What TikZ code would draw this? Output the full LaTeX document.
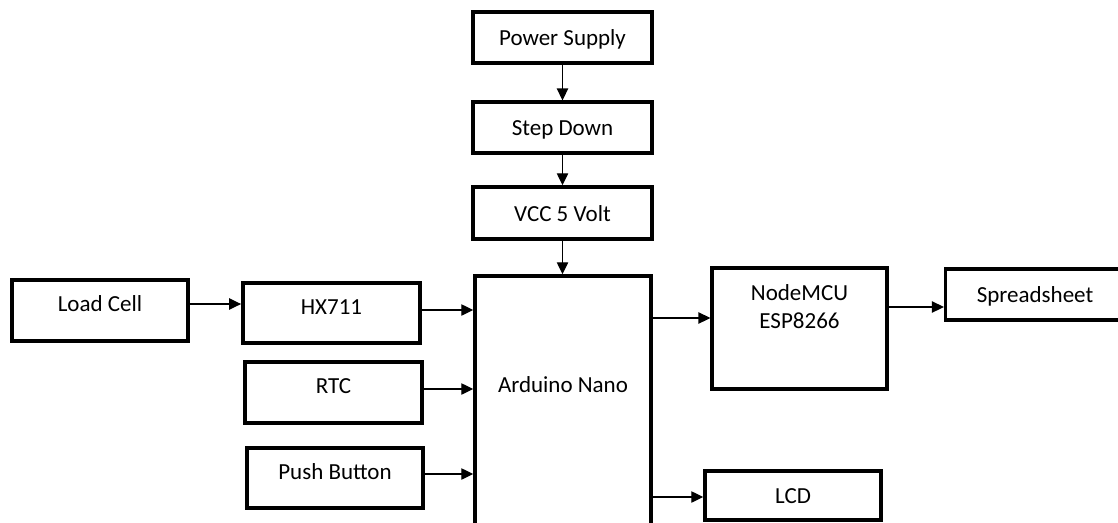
\documentclass[tikz,border=0pt]{standalone}
\usepackage{fontspec}
\setmainfont{Carlito}
\usepackage{tikz}
\usetikzlibrary{positioning, arrows.meta}

\tikzset{
  block/.style={draw, line width=2.6pt, inner sep=0pt, font=\fontsize{17.25}{21}\selectfont, text height=12pt, text depth=0pt},
  raised/.style={text depth=10pt},
  arr/.style={-{Triangle[length=9pt, width=8.5pt]}, line width=1pt}
}

\begin{document}
\begin{tikzpicture}[x=0.75pt, y=-0.75pt]
\clip (0,0) rectangle (1118,522);
% power chain
\node[block, minimum width=134pt, minimum height=38pt] (pwr) at (562.5, 37.5) {Power Supply};
\node[block, minimum width=134pt, minimum height=38pt] (stepdn) at (562.5, 127.5) {Step Down};
\node[block, minimum width=134pt, minimum height=39pt] (vcc) at (562.5, 213) {VCC 5 Volt};
\node[block, minimum width=132pt, minimum height=213pt, text depth=50pt] (nano) at (563, 418) {Arduino Nano};

% inputs
\node[block, raised, minimum width=132pt, minimum height=46pt] (load) at (100, 310.5) {Load Cell};
\node[block, raised, minimum width=133pt, minimum height=45pt] (hx) at (331.5, 313) {HX711};
\node[block, raised, minimum width=133pt, minimum height=46pt] (rtc) at (333.5, 392.5) {RTC};
\node[block, raised, minimum width=132pt, minimum height=45pt] (push) at (335, 478) {Push Button};

% outputs
\node[block, align=center, text depth=12.5pt, minimum width=131pt, minimum height=91pt] (mcu) at (799.5, 328.5) {NodeMCU\\ESP8266};
\node[block, minimum width=134pt, minimum height=38pt] (sheet) at (1035, 294.5) {Spreadsheet};
\node[block, minimum width=132pt, minimum height=37pt] (lcd) at (793, 495.5) {LCD};

\draw[arr] (pwr) -- (stepdn);
\draw[arr] (stepdn) -- (vcc);
\draw[arr] (vcc) -- (vcc |- nano.north);
\draw[arr] (load.east |- 0,304) -- (hx.west |- 0,304);
\draw[arr] (hx.east |- 0,310) -- (nano.west |- 0,310);
\draw[arr] (rtc.east |- 0,389) -- (nano.west |- 0,389);
\draw[arr] (push.east |- 0,474) -- (nano.west |- 0,474);
\draw[arr] (nano.east |- 0,318) -- (mcu.west |- 0,318);
\draw[arr] (mcu.east |- 0,307) -- (sheet.west |- 0,307);
\draw[arr] (nano.east |- 0,497) -- (lcd.west |- 0,497);
\end{tikzpicture}
\end{document}
